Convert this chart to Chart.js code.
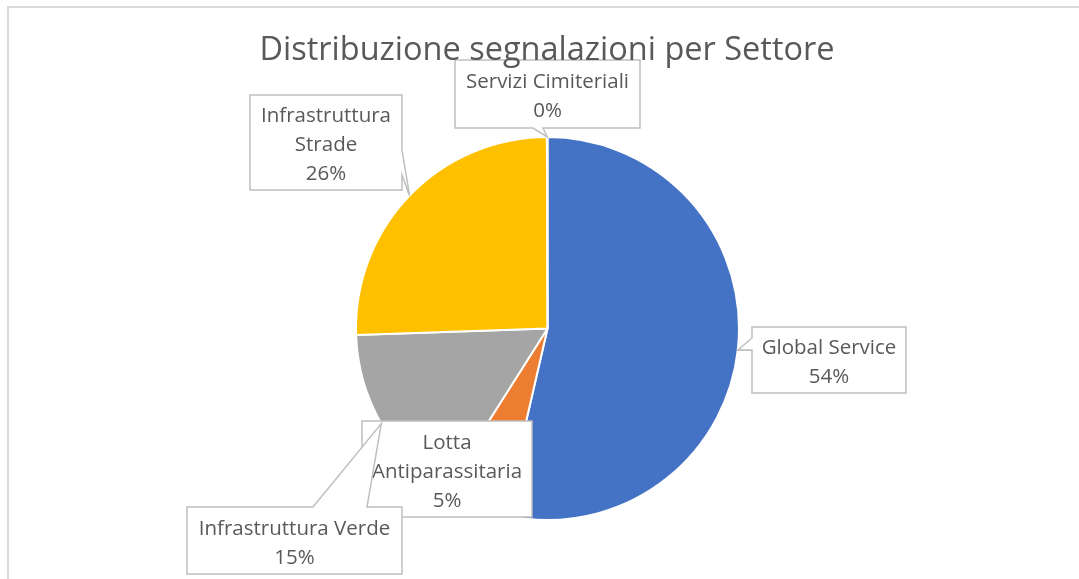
<!DOCTYPE html>
<html>
<head>
<meta charset="utf-8">
<title>Distribuzione segnalazioni per Settore</title>
<script src="https://cdn.jsdelivr.net/npm/chart.js"></script>
<style>
	html, body { margin: 0; padding: 0; background: #fff; }
	#wrap { position: relative; width: 1079px; height: 579px; overflow: hidden; }
	#frame { position: absolute; left: 7px; top: 6px; width: 1200px; height: 700px; border: 2px solid #dadada; box-sizing: border-box; }
	#sectors-chart { position: absolute; left: 0; top: 0; }
</style>
</head>
<body>
<div id="wrap">
	<div id="frame"></div>
	<canvas id="sectors-chart" width="1079" height="579"></canvas>
</div>
<script>
// data (share of reports, %)
const chartTitle = 'Distribuzione segnalazioni per Settore';
const sectors = ['Global Service', 'Lotta Antiparassitaria', 'Infrastruttura Verde', 'Infrastruttura Strade', 'Servizi Cimiteriali'];
const shares = [53.6, 5.4, 15.45, 25.5, 0.05];
const sliceColors = ['#4472C4', '#ED7D31', '#A5A5A5', '#FFC000', '#5B9BD5'];

// callout boxes (layout only), same order as sectors
const callouts = [
	{ box: [752, 327, 154, 66], tail: { side: 'left', a: 338, b: 350 } },
	{ box: [362, 421, 170, 96], tail: null },
	{ box: [187, 507, 215, 67], tail: { side: 'top', a: 313, b: 367 } },
	{ box: [250, 95, 152, 95], tail: { side: 'right', a: 150, b: 175 } },
	{ box: [455, 60, 185, 68], tail: { side: 'bottom', a: 533, b: 543 } }
];

const textColor = '#595959';
const labelFont = '20.5px "Open Sans"';
const titleFont = '32.5px "Open Sans"';
const lineH = 29;

function wrapWords(ctx, text, maxW) {
	let words = text.split(' ');
	let lines = [];
	let cur = '';
	words.forEach(function (w) {
		let test = cur ? cur + ' ' + w : w;
		if (cur && ctx.measureText(test).width > maxW) {
			lines.push(cur);
			cur = w;
		} else {
			cur = test;
		}
	});
	if (cur) lines.push(cur);
	return lines;
}

const calloutPlugin = {
	id: 'callouts',
	afterDraw: function (chart) {
		const ctx = chart.ctx;
		const meta = chart.getDatasetMeta(0);
		const total = shares.reduce((s, v) => s + v, 0);

		ctx.save();
		ctx.font = labelFont;
		callouts.forEach(function (c, i) {
			const el = meta.data[i];
			const mid = (el.startAngle + el.endAngle) / 2;
			const tip = [el.x + Math.cos(mid) * el.outerRadius, el.y + Math.sin(mid) * el.outerRadius];
			const [x, y, w, h] = c.box;
			const t = c.tail;

			ctx.beginPath();
			ctx.moveTo(x, y);
			if (t && t.side === 'top') { ctx.lineTo(t.a, y); ctx.lineTo(tip[0], tip[1]); ctx.lineTo(t.b, y); }
			ctx.lineTo(x + w, y);
			if (t && t.side === 'right') { ctx.lineTo(x + w, t.a); ctx.lineTo(tip[0], tip[1]); ctx.lineTo(x + w, t.b); }
			ctx.lineTo(x + w, y + h);
			if (t && t.side === 'bottom') { ctx.lineTo(t.b, y + h); ctx.lineTo(tip[0], tip[1]); ctx.lineTo(t.a, y + h); }
			ctx.lineTo(x, y + h);
			if (t && t.side === 'left') { ctx.lineTo(x, t.b); ctx.lineTo(tip[0], tip[1]); ctx.lineTo(x, t.a); }
			ctx.closePath();
			ctx.fillStyle = '#ffffff';
			ctx.fill();
			ctx.strokeStyle = '#bfbfbf';
			ctx.lineWidth = 1.5;
			ctx.stroke();

			let lines = wrapWords(ctx, sectors[i], w - 10);
			lines.push(Math.round(shares[i] / total * 100) + '%');
			ctx.fillStyle = textColor;
			ctx.textAlign = 'center';
			ctx.textBaseline = 'middle';
			const top = y + h / 2 - (lines.length - 1) * lineH / 2 + 3;
			lines.forEach(function (ln, k) {
				ctx.fillText(ln, x + w / 2, top + k * lineH);
			});
		});

		// title
		ctx.font = titleFont;
		ctx.fillStyle = textColor;
		ctx.textAlign = 'center';
		ctx.textBaseline = 'middle';
		ctx.fillText(chartTitle, 547, 51);
		ctx.restore();
	}
};

const data = {
	labels: sectors,
	datasets: [{
		data: shares,
		backgroundColor: sliceColors,
		borderColor: '#ffffff',
		borderWidth: 2,
		hoverOffset: 0
	}]
};

const config = {
	type: 'pie',
	data: data,
	options: {
		responsive: false,
		animation: false,
		layout: { padding: { top: 136, bottom: 58, left: 98, right: 82 } },
		plugins: {
			legend: { display: false },
			tooltip: { enabled: false },
			title: { display: false }
		}
	},
	plugins: [calloutPlugin]
};

document.fonts.ready.then(function () {
	new Chart(document.getElementById('sectors-chart'), config);
});
</script>
</body>
</html>
